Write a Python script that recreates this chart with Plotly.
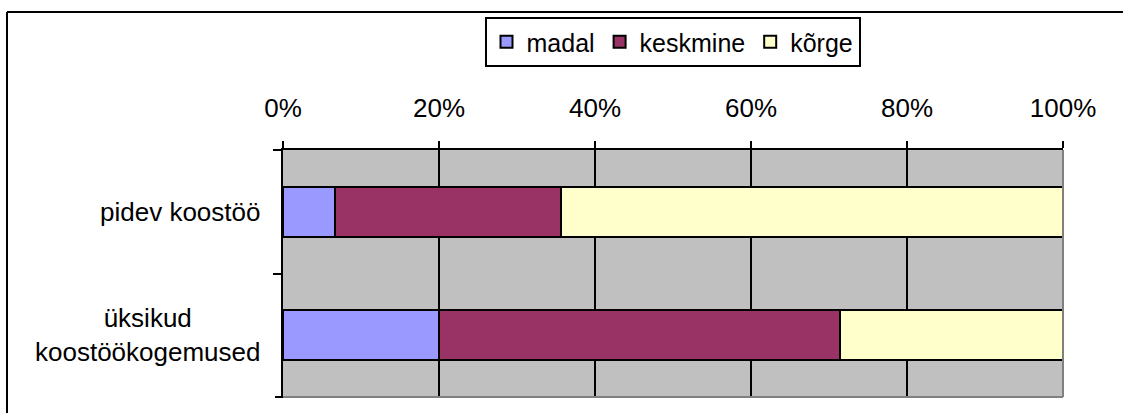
import plotly.graph_objects as go

categories = ["pidev koostöö", "üksikud<br>koostöökogemused"]
series_names = ["madal", "keskmine", "kõrge"]
madal = [0.067, 0.200]
keskmine = [0.289, 0.514]
korge = [0.644, 0.286]
colors = ["#9999FF", "#993366", "#FFFFCC"]
tick_vals = [0, 0.2, 0.4, 0.6, 0.8, 1.0]
tick_text = ["0%", "20%", "40%", "60%", "80%", "100%"]

FONT = "Arial, Liberation Sans, sans-serif"
W, H = 1123, 413
L, R, T, B = 283, 1063, 150, 397

fig = go.Figure()
for name, vals, col in zip(series_names, [madal, keskmine, korge], colors):
    fig.add_trace(go.Bar(
        y=categories, x=vals, name=name, orientation="h",
        marker=dict(color=col, line=dict(color="black", width=2)),
    ))

def px2x(px):
    return (px - L) / (R - L)

def px2y(py):
    return (B - py) / (B - T)

shapes = [
    dict(type="line", xref="paper", yref="paper", x0=1, x1=1, y0=0, y1=1,
         line=dict(color="#808080", width=2)),
    dict(type="line", xref="paper", yref="paper", x0=0, x1=1, y0=0, y1=0,
         line=dict(color="#808080", width=2)),
    # bottom boundary tick on the category axis
    dict(type="line", xref="paper", yref="paper", x0=px2x(275), x1=0,
         y0=0, y1=0, line=dict(color="black", width=2)),
    dict(type="line", xref="paper", yref="paper", x0=px2x(7), x1=px2x(1130),
         y0=px2y(12), y1=px2y(12), line=dict(color="black", width=2)),
    dict(type="line", xref="paper", yref="paper", x0=px2x(7), x1=px2x(7),
         y0=px2y(12), y1=px2y(420), line=dict(color="black", width=2)),
]

annotations = [
    dict(text=c, xref="paper", yref="y", x=px2x(262), y=c, xanchor="right",
         yanchor="middle", align="center", showarrow=False,
         font=dict(family=FONT, size=26, color="black"))
    for c in categories
]

fig.update_layout(
    width=W, height=H,
    barmode="stack",
    bargap=0.595,
    plot_bgcolor="#C0C0C0",
    paper_bgcolor="white",
    margin=dict(l=L, r=W - R, t=T, b=H - B, autoexpand=False),
    font=dict(family=FONT, size=26, color="black"),
    showlegend=True,
    legend=dict(
        orientation="h", x=(487 + 858) / 2 / W, xref="container",
        xanchor="center", y=1 - 42 / H, yref="container", yanchor="middle",
        bordercolor="black", borderwidth=2, bgcolor="white",
        font=dict(family=FONT, size=25, color="black"),
        traceorder="normal", itemwidth=30,
    ),
    shapes=shapes,
    annotations=annotations,
    xaxis=dict(
        side="top", range=[0, 1], tickvals=tick_vals, ticktext=tick_text,
        showgrid=True, gridcolor="black", gridwidth=2,
        showline=True, linecolor="black", linewidth=2,
        ticks="outside", ticklen=7, tickwidth=2, tickcolor="black",
        ticklabelstandoff=14, zeroline=False, fixedrange=True,
    ),
    yaxis=dict(
        autorange="reversed", tickson="boundaries",
        showline=True, linecolor="black", linewidth=2,
        ticks="outside", ticklen=8, tickwidth=2, tickcolor="black",
        showgrid=False, showticklabels=False, fixedrange=True,
    ),
)

fig.write_html("out.html", config={"displayModeBar": False},
               post_script="document.body.style.margin='0';")
